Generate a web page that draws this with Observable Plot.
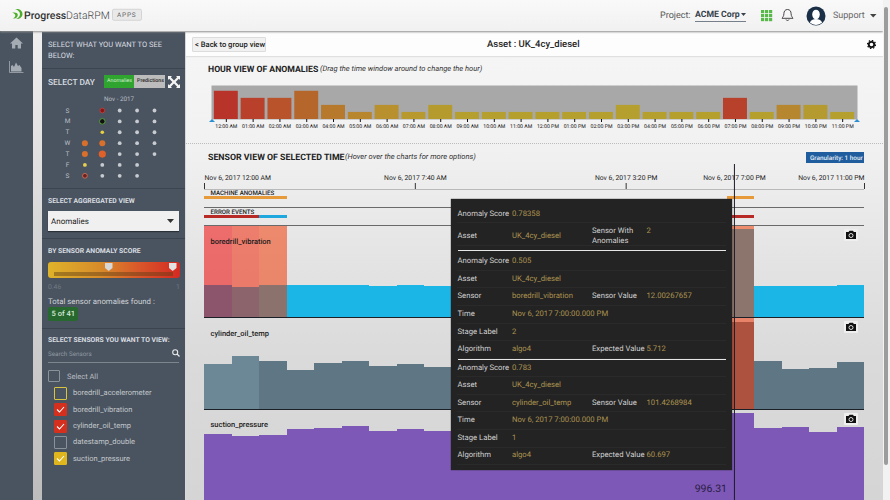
<!DOCTYPE html>
<html><head><meta charset="utf-8">
<script src="https://cdn.jsdelivr.net/npm/d3@7"></script>
<script src="https://cdn.jsdelivr.net/npm/@observablehq/plot@0.6"></script>
<style>
html,body{margin:0;padding:0;width:890px;height:500px;overflow:hidden;background:#f5f5f5;font-family:Roboto,sans-serif;text-rendering:geometricPrecision}
#root{position:relative;width:890px;height:500px;overflow:hidden}
.b{position:absolute}
.t{position:absolute;white-space:nowrap;line-height:1;transform:translateY(-50%)}
.p{position:absolute}
.p svg{display:block;overflow:visible}
.p svg text{text-rendering:geometricPrecision}
</style></head><body><div id="root"></div>
<script>
// ---- data ----
const hourLabels = ["12:00 AM","01:00 AM","02:00 AM","03:00 AM","04:00 AM","05:00 AM","06:00 AM","07:00 AM","08:00 AM","09:00 AM","10:00 AM","11:00 AM","12:00 PM","01:00 PM","02:00 PM","03:00 PM","04:00 PM","05:00 PM","06:00 PM","07:00 PM","08:00 PM","09:00 PM","10:00 PM","11:00 PM"];
const hourCounts = [4,3,3,4,2,1,2,1,2,1,1,1,1,1,1,2,1,1,1,3,1,2,2,1];
const hourColors = ["#b83329","#b9402b","#b9532b","#b5662b","#b7792c","#b8862d","#b8902e","#b8992e","#b59b2e","#b59f2e","#b59f2e","#b5a02e","#b5a02e","#b5a02e","#b5a02e","#b59f2e","#b5a02e","#b5a02e","#b5a02e","#b8412b","#b5a02e","#b6872e","#b59a2f","#b5a02e"];
const axisHours = [0,7.667,15.333,24];
const axisStartLabel = ["Nov 6, 2017 12:00 AM"];
const axisMidLabels = ["Nov 6, 2017 7:40 AM","Nov 6, 2017 3:20 PM"];
const axisEndLabel = ["Nov 6, 2017 11:00 PM"];
const cursorHour = [19.27];
const cursorLabel = ["Nov 6, 2017 7:00 PM"];
const machineStart = [0,19], machineEnd = [3,20];
const errorStart = [0,2,19], errorEnd = [2,3,20];
const errorColors = ["#b82a26","#1ea8de","#b82a26"];
const boredrillValues = [4.31,4.13,4.31,4.36,4.40,4.40,4.17,4.31,4.27,4.27,4.27,4.27,4.27,4.27,4.27,4.27,4.27,4.27,4.27,12.00,4.23,4.23,4.27,4.40];
const cylinderValues = [52.1,61.8,56,45.8,53.3,55.6,49.8,52.1,49.3,50,50,50,50,50,50,50,50,50,50,101.43,56,47,47.5,55.2];
const suctionValues = [757,727,742,807,818,844,791,807,791,800,800,800,800,800,800,800,800,800,800,996.31,818,830,773,830];
const boredrillBandStart = [0,1,2,19];
const boredrillBandColors = ["rgb(241,0,0)","rgb(241,30,0)","rgb(241,55,0)","rgb(241,60,0)"];
const cylinderBandStart = [19];
const cylinderBandColors = ["rgb(241,50,0)"];
const calCols = [0,0,0,0, 1,1,1,1,1,1,1, 2,2,2,2,2,2,2, 3,3,3,3,3,3,3, 4,4,4,4,4];
const calRows = [3,4,5,6, 0,1,2,3,4,5,6, 0,1,2,3,4,5,6, 0,1,2,3,4,5,6, 0,1,2,3,4];
const calSizes = [3,3,1.9,2.4, 2.4,2.8,1.8,3,3.6,1.9,1.9, 1.9,1.9,1.9,1.9,1.9,1.9,1.9, 1.9,1.9,1.9,1.9,1.9,1.9,1.9, 1.9,1.9,1.9,1.9,1.9];
const calFills = ["#d8702c","#d8702c","#e8cf50","#6e2020","#8b1515","#111","#e8d040","#d8702c","#e0602a"].concat(Array(21).fill("#c8ccd0"));
const calStrokes = ["none","none","none","#c86a50","#b54040","#5aa040"].concat(Array(24).fill("none"));
const dayLetters = ["S","M","T","W","T","F","S"];

// ---- chrome helpers ----
const root = document.getElementById("root");
function box(x,y,w,h,css){const d=document.createElement("div");d.className="b";d.style.cssText=`left:${x}px;top:${y}px;width:${w}px;height:${h}px;${css||""}`;root.appendChild(d);return d;}
function txt(x,y,s,css){const d=document.createElement("div");d.className="t";d.style.cssText=`left:${x}px;top:${y}px;${css||""}`;d.textContent=s;root.appendChild(d);return d;}
function svgAt(x,y,w,h,inner){const d=document.createElement("div");d.className="b";d.style.cssText=`left:${x}px;top:${y}px;width:${w}px;height:${h}px`;d.innerHTML=`<svg width="${w}" height="${h}" viewBox="0 0 ${w} ${h}" style="display:block">${inner}</svg>`;root.appendChild(d);return d;}
function put(x,y,plot){const d=document.createElement("div");d.className="p";d.style.left=x+"px";d.style.top=y+"px";d.appendChild(plot);root.appendChild(d);}
const tr={background:"transparent",fontFamily:"Roboto, sans-serif",overflow:"visible"};

// ---- page backgrounds ----
box(186,32,697,468,"background:linear-gradient(#f6f6f6 0,#f1f1f1 25%,#e3e3e3 50%,#dadada 70%,#d5d5d5 100%)");
box(186,32,697,24,"background:#fdfdfd;box-shadow:0 1px 1px #e0e0e0");
box(0,31,33,469,"background:#4a5461");
box(33,31,9,469,"background:linear-gradient(#efefef,#d4d4d4 50%,#bdbdbd)");
box(42,32,143,468,"background:#4a5460");
box(185,32,1,468,"background:#d8d8d8");
box(0,0,883,31,"background:linear-gradient(#f9f9f9,#f1f1f1);box-shadow:0 1px 2px #8f8f8f");
box(883,0,7,500,"background:#f2f2f2");
box(884,7,4,458,"background:#9c9c9c;border-radius:2px");

// ---- header ----
svgAt(12,9,11,10,'<path d="M3 0h2.200C8 0 10.500 2.200 10.500 5S8 10 5.200 10H4c2.400-.8 4-2.600 4-5S5.700.8 3 0z M0 3.500h2.300C4 3.500 5.800 4.200 5.800 6S4 9.500 2.300 9.500H.8C2.300 9 3.300 7.800 3.300 6.500S1.800 4 0 3.500z" fill="#4caf2a"/>');
txt(24,15.5,"Progress","font-size:10.5px;font-weight:500;color:#333");
txt(66,15.5,"DataRPM","font-size:10.5px;font-weight:300;color:#444");
txt(112,14.5,"APPS","font-size:6.5px;letter-spacing:.8px;color:#666;background:#e9e9e9;border:1px solid #d4d4d4;border-radius:2px;padding:2px 4px");
txt(660,15.5,"Project:","font-size:9px;color:#555");
txt(695,14.5,"ACME Corp","font-size:8.7px;font-weight:700;color:#38424c");
svgAt(741,13,6,4,'<path d="M0 0h5L2.5 3z" fill="#38424c"/>');
box(695,20.5,51,1,"background:#77808a");
svgAt(761,9.5,12,12,[0,4,8].flatMap(a=>[0,4,8].map(b=>`<rect x="${a}" y="${b}" width="3.2" height="3.2" fill="#58b94a"/>`)).join(""));
svgAt(781,8,13,14,'<path d="M6.5 1.5c2.5 0 3.6 2 3.6 4.2 0 2.6 1.4 3.6 1.9 4.6H1c.5-1 1.9-2 1.9-4.6 0-2.2 1.1-4.2 3.6-4.2z M5 11.5c.3 1.3 2.7 1.3 3 0" fill="none" stroke="#333" stroke-width=".9"/>');
svgAt(806,6,20,20,'<circle cx="10" cy="10" r="9.5" fill="#1b2f46"/><ellipse cx="10" cy="8.5" rx="3.8" ry="4.8" fill="#fff"/><path d="M3.8 16.5c1.5-3 3.5-3.5 6.2-3.5s4.7.5 6.2 3.5a9 9 0 0 1-12.4 0z" fill="#fff"/>');
txt(833,15.5,"Support","font-size:9px;color:#666");
svgAt(870,13.5,7,4,'<path d="M0 0h6.5L3.2 3.5z" fill="#444"/>');

// ---- left nav ----
svgAt(10,37,13,12,'<path d="M6.5 .5 0 6.500h2v5h3.300V8h2.400v3.500H11v-5h2z" fill="#a4abb2"/>');
svgAt(9,61,15,12,'<path d="M.5 0v11.500h14" fill="none" stroke="#a4abb2" stroke-width=".8"/><path d="M2 10.500V5l1.500-1 1.500 2 2-4.500 2 3.500 1.500-1 2 3v3.500z" fill="#a4abb2"/>');

// ---- sidebar ----
const sH="color:#d9dde0;font-weight:500;";
txt(48,45,"SELECT WHAT YOU WANT TO SEE",sH+"font-size:7.5px;font-weight:400");
txt(48,56,"BELOW:",sH+"font-size:7.5px;font-weight:400");
box(42,68,143,1,"background:#3c454f");
txt(48,83,"SELECT DAY",sH+"font-size:8.4px;font-weight:500");
box(104,75,30,13,"background:#2fa52f");
txt(107,81.5,"Anomalies","font-size:5.3px;color:#cfeacf");
box(134,75,31,13,"background:#bcbcbc");
txt(137,81.5,"Predictions","font-size:5.3px;color:#2b2b2b;font-weight:500");
svgAt(168,76,12,12,'<path d="M0 0h4L2.800 1.200 6 4.400l3.200-3.200L8 0h4v4l-1.200-1.200L7.600 6l3.200 3.200L12 8v4H8l1.200-1.200L6 7.600l-3.200 3.200L4 12H0V8l1.200 1.200L4.400 6 1.200 2.800 0 4z" fill="#f4f4f4"/>');
txt(104,98.5,"Nov - 2017","font-size:6.3px;color:#b9bec3");

put(56.7,100,Plot.plot({
  width:107,height:85.3,marginTop:10,marginBottom:10,marginLeft:10,marginRight:10,
  style:tr,
  x:{type:"point",domain:[-1,0,1,2,3,4],padding:0,round:false,axis:null},
  y:{type:"point",domain:d3.range(7),padding:0,round:false,axis:null},
  r:{type:"identity"},color:{type:"identity"},
  marks:[
    Plot.text(dayLetters,{x:()=>-1,y:(d,i)=>i,text:d=>d,fill:"#b9bec3",fontSize:6.5}),
    Plot.dot(calCols,{x:d=>d,y:(d,i)=>calRows[i],r:(d,i)=>calSizes[i],fill:(d,i)=>calFills[i],stroke:(d,i)=>calStrokes[i],strokeWidth:1})
  ]}));

box(42,188,143,1,"background:#3c454f");
txt(48,200.5,"SELECT AGGREGATED VIEW",sH+"font-size:6.8px;font-weight:700");
box(48,211,131,20,"background:#f0f0f0;box-shadow:0 1px 1px #2b3138");
txt(51,221.5,"Anomalies","font-size:8px;color:#222");
svgAt(167,219,7,5,'<path d="M0 0h7L3.5 4z" fill="#333"/>');
box(42,238,143,1,"background:#3c454f");
txt(48,250.5,"BY SENSOR ANOMALY SCORE",sH+"font-size:6.8px;font-weight:700");
box(48,262,132,16,"background:linear-gradient(90deg,#dfb32a,#d88b2a 40%,#d9552a 70%,#d42a22);border-radius:3px");
box(54,272,119,4,"background:rgba(90,60,20,.45)");
svgAt(105,263,8,9,'<path d="M0 0h7.5v5L3.7 8 0 5z" fill="#d7d7d7"/>');
svgAt(169,263,8,9,'<path d="M0 0h7.5v5L3.7 8 0 5z" fill="#e2e2e2"/>');
txt(48,286.5,"0.46","font-size:6.8px;color:#6f7983");
txt(176,286.5,"1","font-size:6.8px;color:#6f7983");
txt(48,301.5,"Total sensor anomalies found :","font-size:7.8px;color:#cfd3d7");
box(48,307,30,14,"background:#27682e;border-radius:2px");
txt(51.5,314,"5 of 41","font-size:7.5px;font-weight:500;color:#d9ead9");
box(42,327.5,143,1,"background:#3c454f");
txt(48,339.5,"SELECT SENSORS YOU WANT TO VIEW:",sH+"font-size:6.8px;font-weight:700");
txt(48,353.5,"Search Sensors","font-size:6.3px;color:#8f98a0");
svgAt(172,349,8,8,'<circle cx="3.2" cy="3.2" r="2.5" fill="none" stroke="#e8e8e8" stroke-width="1.1"/><path d="M5 5l2.500 2.500" stroke="#e8e8e8" stroke-width="1.3"/>');
box(48,362,131,1,"background:#7d858d");
box(48,370,12,12,"box-sizing:border-box;border:1px solid #8a9299;border-radius:1px");
txt(67,377,"Select All","font-size:7.5px;color:#b7bcc1");
const sensorNames=["boredrill_accelerometer","boredrill_vibration","cylinder_oil_temp","datestamp_double","suction_pressure"];
const sensorBox=["none","#d5301e","#d5301e","none","#dfb61d"];
const sensorEdge=["#d8c43e","#d5301e","#d5301e","#8a9299","#dfb61d"];
sensorNames.forEach((n,i)=>{
  const cy=[393,409.5,426,442,458.5][i];
  box(54,cy-6.5,13,13,`box-sizing:border-box;border:1px solid ${sensorEdge[i]};background:${sensorBox[i]==="none"?"transparent":sensorBox[i]};border-radius:1px`);
  if(sensorBox[i]!=="none") svgAt(54,cy-6.5,13,13,'<path d="M3 6.500l2.500 2.500 4.500-5" fill="none" stroke="#fff" stroke-width="1.1"/>');
  txt(73,cy,n,"font-size:7.5px;color:#c2c7cb");
});

// ---- main header ----
box(192,37,74,15,"box-sizing:border-box;background:#f1f1f1;border:1px solid #dcdcdc;border-radius:1px");
txt(195,44.5,"< Back to group view","font-size:7.6px;color:#222;font-weight:500");
txt(487,44.5,"Asset : UK_4cy_diesel","font-size:9.5px;font-weight:500;color:#262626");
svgAt(867,40,9,9,'<circle cx="4.5" cy="4.5" r="2.7" fill="none" stroke="#111" stroke-width="1.8"/><circle cx="4.5" cy="4.5" r="4" fill="none" stroke="#111" stroke-width="1.3" stroke-dasharray="1.5 1.6"/>');
txt(208,69.5,"HOUR VIEW OF ANOMALIES","font-size:8.7px;font-weight:700;color:#222");
txt(320,68.5,"(Drag the time window around to change the hour)","font-size:7.5px;font-style:italic;color:#333");
box(186,143,697,0,"border-top:1px dotted #bcbcbc");
txt(208,157.5,"SENSOR VIEW OF SELECTED TIME","font-size:8.8px;font-weight:700;color:#222");
txt(345,156.5,"(Hover over the charts for more options)","font-size:7.55px;font-style:italic;color:#333");
box(806,152,58,11,"background:#1f5d9f");
txt(810,157.5,"Granularity: 1 hour","font-size:6.4px;color:#e6eef6;font-weight:500");

// ---- hour chart ----
put(211,85,Plot.plot({
  width:646,height:46,marginTop:0,marginBottom:12,marginLeft:0,marginRight:0,
  style:tr,
  x:{type:"band",domain:hourLabels,padding:0.107,align:0.5,round:false,label:null},
  y:{domain:[0,4.82],axis:null},
  color:{type:"identity"},
  marks:[
    Plot.frame({fill:"#a8a8a8",stroke:null}),
    Plot.barY(hourCounts,{x:(d,i)=>hourLabels[i],y:d=>d,fill:(d,i)=>hourColors[i]}),
    Plot.axisX({tickSize:3,tickPadding:1.5,fontSize:5.2,fill:"#111",stroke:"#111",label:null})
  ]}));
svgAt(208.5,118.5,6,3,'<path d="M3 0l3 3H0z" fill="#2a8fd0"/>');
svgAt(854,118.5,6,3,'<path d="M3 0l3 3H0z" fill="#2a8fd0"/>');

// ---- time axis ----
const xDom={domain:[0,24],axis:null};
const axisFont={fontSize:6.8,fill:"#222",frameAnchor:"top",dy:-8};
put(204,165,Plot.plot({
  width:660,height:24,marginTop:18,marginBottom:0,marginLeft:0,marginRight:0,
  style:tr,x:xDom,y:{domain:[0,1],axis:null},
  marks:[
    Plot.ruleY([0],{stroke:"#b9b9b9"}),
    Plot.ruleX(axisHours,{stroke:"#333",y1:0,y2:1,strokeWidth:1}),
    Plot.text(axisStartLabel,{x:()=>axisHours[0],textAnchor:"start",...axisFont}),
    Plot.text(axisMidLabels,{x:(d,i)=>axisHours[i+1],textAnchor:"middle",...axisFont}),
    Plot.text(cursorLabel,{x:()=>cursorHour[0],textAnchor:"middle",...axisFont}),
    Plot.text(axisEndLabel,{x:()=>axisHours[3],textAnchor:"end",...axisFont})
  ]}));

// ---- event rows ----
function eventRow(top,label,starts,ends,colors){
  put(204,top,Plot.plot({
    width:660,height:18,marginTop:7,marginBottom:8,marginLeft:0,marginRight:0,
    style:tr,x:xDom,y:{axis:null},color:{type:"identity"},
    marks:[
      Plot.rectX(starts,{x1:d=>d,x2:(d,i)=>ends[i],fill:(d,i)=>colors[i],shapeRendering:"crispEdges"}),
      Plot.text([label],{frameAnchor:"top-left",dx:6,dy:-1.2,lineAnchor:"bottom",fontSize:6.2,fontWeight:500,fill:"#222"})
    ]}));
}
eventRow(189,"MACHINE ANOMALIES",machineStart,machineEnd,["#e79a3a","#e79a3a"]);
box(204,207,660,1,"background:#6a6a6a");
eventRow(208,"ERROR EVENTS",errorStart,errorEnd,errorColors);
box(204,225,660,1,"background:#6a6a6a");

// ---- sensor panels ----
function sensorPanel(top,height,name,values,yMax,fills,bandStart,bandColors,baseline,extra){
  put(204,top,Plot.plot({
    width:660,height,marginTop:0,marginBottom:baseline?1:0,marginLeft:0,marginRight:0,
    style:tr,x:xDom,y:{domain:[0,yMax],axis:null},color:{type:"identity"},
    marks:[
      Plot.rectY(values,{x1:(d,i)=>i,x2:(d,i)=>i+1,y:d=>d,fill:(d,i)=>fills[i],shapeRendering:"crispEdges"}),
      Plot.rectX(bandStart,{x1:d=>d,x2:d=>d+1,fill:(d,i)=>bandColors[i],fillOpacity:0.53,shapeRendering:"crispEdges"}),
      baseline?Plot.ruleY([0],{stroke:"#1a2026"}):null,
      Plot.text([name],{frameAnchor:"top-left",dx:6,dy:baseline?12:11,fontSize:7.5,fontWeight:500,fill:"#1c1c1c"}),
      ...(extra||[])
    ]}));
}
sensorPanel(226,92,"boredrill_vibration",boredrillValues,12.4,boredrillValues.map(()=>"#1bb5e6"),boredrillBandStart,boredrillBandColors,true);
const cylFills=cylinderValues.map((d,i)=>i<2?"#6c8897":"#5f7785");
sensorPanel(318,92,"cylinder_oil_temp",cylinderValues,106,cylFills,cylinderBandStart,cylinderBandColors,true);
sensorPanel(410,90,"suction_pressure",suctionValues,1027,suctionValues.map(()=>"#7d58b6"),[],[],false,[
  Plot.text([suctionValues[19]],{x:()=>19,frameAnchor:"bottom",dy:-9,textAnchor:"end",fontSize:10.5,fill:"#2a1c44",text:d=>d.toFixed(2)})
]);
[235,327,419].forEach(y=>svgAt(844,y-6,14,12,'<rect width="14" height="12" fill="#efefef" rx="1"/><path d="M2 3h2.500l1-1.200h3.500l.8 1.200H12v7H2z" fill="#111"/><circle cx="7" cy="6.500" r="2" fill="none" stroke="#eee" stroke-width=".9"/>'));

// ---- tooltip ----
box(451,199,281,271,"background:#232323;box-shadow:0 0 1px #111");
const lab="font-size:7.7px;color:#d2d2d2;", val="font-size:7.7px;color:#ad9350;";
const tipRows=[
 [213.5,"Anomaly Score","0.78358"],
 [236,"Asset","UK_4cy_diesel"],
 [261,"Anomaly Score","0.505"],
 [278.5,"Asset","UK_4cy_diesel"],
 [296,"Sensor","boredrill_vibration","Sensor Value","12.00267657"],
 [314,"Time","Nov 6, 2017 7:00:00.000 PM"],
 [331.5,"Stage Label","2"],
 [349,"Algorithm","algo4","Expected Value","5.712"],
 [367.5,"Anomaly Score","0.783"],
 [385,"Asset","UK_4cy_diesel"],
 [402.5,"Sensor","cylinder_oil_temp","Sensor Value","101.4268984"],
 [420,"Time","Nov 6, 2017 7:00:00.000 PM"],
 [438,"Stage Label","1"],
 [455,"Algorithm","algo4","Expected Value","60.697"]];
tipRows.forEach(r=>{
  txt(457.5,r[0],r[1],lab);txt(512,r[0],r[2],val);
  if(r[3]){txt(592,r[0],r[3],lab);txt(646.5,r[0],r[4],val);}
  box(457,r[0]+8.5,269,1,"background:#2a2a2a");
});
txt(592,231,"Sensor With",lab);txt(592,241,"Anomalies",lab);txt(646.5,231,"2",val);
box(457.5,250,268.5,1,"background:#e6e6e6");
box(457.5,358.5,268.5,1,"background:#e6e6e6");

// ---- cursor ----
put(204,164,Plot.plot({
  width:660,height:336,margin:0,style:tr,x:xDom,y:{axis:null},
  marks:[Plot.ruleX(cursorHour,{stroke:"#1d1b24",strokeWidth:1})]
}));
</script></body></html>
